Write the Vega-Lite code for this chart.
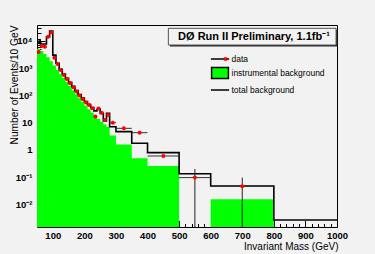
{
  "$schema": "https://vega.github.io/schema/vega-lite/v6.json",
  "width": 300,
  "height": 202,
  "autosize": {"type": "none"},
  "padding": {"left": 37, "top": 25, "right": 38, "bottom": 27},
  "background": "#f2f2f2",
  "config": {
    "view": {"stroke": "#000", "strokeWidth": 1},
    "font": "Liberation Sans",
    "axis": {"grid": false, "domain": false, "labelFont": "Liberation Sans", "titleFont": "Liberation Sans", "labelColor": "#000", "titleColor": "#000", "tickColor": "#000", "tickWidth": 1}
  },
  "datasets": {
    "inst": [
      {"m": 50, "v": 5000},
      {"m": 60, "v": 4200},
      {"m": 70, "v": 3300},
      {"m": 80, "v": 2500},
      {"m": 90, "v": 1800},
      {"m": 100, "v": 1250},
      {"m": 110, "v": 850},
      {"m": 120, "v": 600},
      {"m": 130, "v": 430},
      {"m": 140, "v": 310},
      {"m": 150, "v": 220},
      {"m": 160, "v": 155},
      {"m": 170, "v": 110},
      {"m": 180, "v": 78},
      {"m": 190, "v": 57},
      {"m": 200, "v": 42},
      {"m": 210, "v": 31},
      {"m": 220, "v": 23},
      {"m": 230, "v": 17},
      {"m": 240, "v": 13.5},
      {"m": 250, "v": 10.5},
      {"m": 260, "v": 8.5},
      {"m": 270, "v": 7},
      {"m": 280, "v": 3.4},
      {"m": 300, "v": 1.6},
      {"m": 350, "v": 0.5},
      {"m": 400, "v": 0.26},
      {"m": 500, "v": 0.0001},
      {"m": 600, "v": 0.0156},
      {"m": 800, "v": 0.0001},
      {"m": 1000, "v": 0.0001}
    ],
    "total": [
      {"m": 50, "v": 11000},
      {"m": 60, "v": 7600},
      {"m": 70, "v": 7600},
      {"m": 80, "v": 14000},
      {"m": 90, "v": 23000},
      {"m": 100, "v": 3000},
      {"m": 110, "v": 1500},
      {"m": 120, "v": 900},
      {"m": 130, "v": 600},
      {"m": 140, "v": 420},
      {"m": 150, "v": 300},
      {"m": 160, "v": 215},
      {"m": 170, "v": 150},
      {"m": 180, "v": 108},
      {"m": 190, "v": 80},
      {"m": 200, "v": 60},
      {"m": 210, "v": 46},
      {"m": 220, "v": 36},
      {"m": 230, "v": 27},
      {"m": 240, "v": 31},
      {"m": 250, "v": 22},
      {"m": 260, "v": 11.5},
      {"m": 270, "v": 22},
      {"m": 280, "v": 7.1},
      {"m": 300, "v": 4.7},
      {"m": 350, "v": 1.76},
      {"m": 400, "v": 0.8},
      {"m": 500, "v": 0.135},
      {"m": 600, "v": 0.048},
      {"m": 800, "v": 0.0027},
      {"m": 1000, "v": 0.0027}
    ],
    "pts": [
      {"m": 55, "lo": 50, "hi": 60, "v": 3900},
      {"m": 65, "lo": 60, "hi": 70, "v": 6500},
      {"m": 75, "lo": 70, "hi": 80, "v": 6100},
      {"m": 85, "lo": 80, "hi": 90, "v": 14000},
      {"m": 95, "lo": 90, "hi": 100, "v": 20400},
      {"m": 105, "lo": 100, "hi": 110, "v": 2400},
      {"m": 115, "lo": 110, "hi": 120, "v": 1400},
      {"m": 125, "lo": 120, "hi": 130, "v": 850},
      {"m": 135, "lo": 130, "hi": 140, "v": 560},
      {"m": 145, "lo": 140, "hi": 150, "v": 400},
      {"m": 155, "lo": 150, "hi": 160, "v": 280},
      {"m": 165, "lo": 160, "hi": 170, "v": 200},
      {"m": 175, "lo": 170, "hi": 180, "v": 140},
      {"m": 185, "lo": 180, "hi": 190, "v": 100},
      {"m": 195, "lo": 190, "hi": 200, "v": 72},
      {"m": 205, "lo": 200, "hi": 210, "v": 55},
      {"m": 215, "lo": 210, "hi": 220, "v": 44},
      {"m": 225, "lo": 220, "hi": 230, "v": 34},
      {"m": 235, "lo": 230, "hi": 240, "v": 17},
      {"m": 245, "lo": 240, "hi": 250, "v": 33},
      {"m": 255, "lo": 250, "hi": 260, "v": 23},
      {"m": 265, "lo": 260, "hi": 270, "v": 12.5},
      {"m": 275, "lo": 270, "hi": 280, "v": 19},
      {"m": 290, "lo": 280, "hi": 300, "v": 10},
      {"m": 325, "lo": 300, "hi": 350, "v": 6.2},
      {"m": 375, "lo": 350, "hi": 400, "v": 4.3},
      {"m": 450, "lo": 400, "hi": 500, "v": 0.6},
      {"m": 550, "lo": 500, "hi": 600, "v": 0.097, "el": 0.0001, "eh": 0.2},
      {"m": 700, "lo": 600, "hi": 800, "v": 0.047, "el": 0.0001, "eh": 0.097}
    ],
    "legend": [
      {"series": "data"},
      {"series": "instrumental background"},
      {"series": "total background"}
    ],
    "legenddot": [
      {"dot": "data"}
    ],
    "label": [
      {"text": "DØ Run II Preliminary, 1.1fb⁻¹"}
    ]
  },
  "layer": [
    {
      "data": {"name": "inst"},
      "mark": {"type": "area", "interpolate": "step-after", "clip": true, "color": "#00ff00", "opacity": 1},
      "encoding": {
        "x": {"field": "m", "type": "quantitative", "scale": {"type": "linear", "domain": [50, 1000], "nice": false, "zero": false},
          "axis": {"orient": "bottom", "values": [100, 200, 300, 400, 500, 600, 700, 800, 900, 1000], "format": "d", "tickSize": -6.5, "labelPadding": 10, "labelFontSize": 9.5, "labelFontWeight": "bold", "labelFlush": false,
            "title": "Invariant Mass (GeV)", "titleFontSize": 10, "titleFontWeight": "normal", "titleX": 301, "titleY": 19, "titleAlign": "right", "titleBaseline": "middle"}},
        "y": {"field": "v", "type": "quantitative", "scale": {"type": "log", "domain": [0.0015, 38000], "nice": false},
          "axis": {"orient": "left", "values": [0.01, 0.1, 1, 10, 100, 1000, 10000], "tickSize": -8, "labelPadding": 13, "labelFontSize": 9.5, "labelFontWeight": "bold", "labelFlush": false,
            "labelExpr": "datum.value >= 5000 ? '10⁴' : datum.value >= 500 ? '10³' : datum.value >= 50 ? '10²' : datum.value >= 5 ? '10' : datum.value >= 0.5 ? '1' : datum.value >= 0.05 ? '10⁻¹' : '10⁻²'",
            "title": "Number of Events/10 GeV", "titleFontSize": 10.2, "titleFontWeight": "normal", "titleAngle": -90, "titleX": -23, "titleY": 0, "titleAlign": "right", "titleBaseline": "middle"}},
        "y2": {"datum": 0.0001}
      }
    },
    {
      "data": {"name": "total"},
      "mark": {"type": "line", "interpolate": "step-after", "color": "#000", "strokeWidth": 1.6, "clip": true},
      "encoding": {
        "x": {"field": "m", "type": "quantitative", "scale": {"type": "linear", "domain": [50, 1000], "nice": false, "zero": false},
          "axis": {"orient": "bottom", "values": [60, 80, 120, 140, 160, 180, 220, 240, 260, 280, 320, 340, 360, 380, 420, 440, 460, 480, 520, 540, 560, 580, 620, 640, 660, 680, 720, 740, 760, 780, 820, 840, 860, 880, 920, 940, 960, 980], "labels": false, "tickSize": -3.5, "title": null}},
        "y": {"field": "v", "type": "quantitative", "scale": {"type": "log", "domain": [0.0015, 38000], "nice": false},
          "axis": {"orient": "left", "values": [0.002, 0.003, 0.004, 0.005, 0.006, 0.007, 0.008, 0.009, 0.02, 0.03, 0.04, 0.05, 0.06, 0.07, 0.08, 0.09, 0.2, 0.3, 0.4, 0.5, 0.6, 0.7, 0.8, 0.9, 2, 3, 4, 5, 6, 7, 8, 9, 20, 30, 40, 50, 60, 70, 80, 90, 200, 300, 400, 500, 600, 700, 800, 900, 2000, 3000, 4000, 5000, 6000, 7000, 8000, 9000, 20000, 30000], "labels": false, "tickSize": -4, "title": null}}
      }
    },
    {
      "data": {"name": "pts"},
      "mark": {"type": "rule", "color": "#333", "strokeWidth": 1, "clip": true},
      "encoding": {
        "x": {"field": "lo", "type": "quantitative", "scale": {"domain": [50, 1000], "nice": false, "zero": false}, "axis": null},
        "x2": {"field": "hi"},
        "y": {"field": "v", "type": "quantitative", "scale": {"type": "log", "domain": [0.0015, 38000], "nice": false}, "axis": null}
      }
    },
    {
      "data": {"name": "pts"},
      "transform": [{"filter": "datum.eh != null"}],
      "mark": {"type": "rule", "color": "#222", "strokeWidth": 1, "clip": true},
      "encoding": {
        "x": {"field": "m", "type": "quantitative", "scale": {"domain": [50, 1000], "nice": false, "zero": false}, "axis": null},
        "y": {"field": "el", "type": "quantitative", "scale": {"type": "log", "domain": [0.0015, 38000], "nice": false}, "axis": null},
        "y2": {"field": "eh"}
      }
    },
    {
      "data": {"name": "pts"},
      "mark": {"type": "circle", "color": "#ff0000", "size": 16, "opacity": 1, "clip": true},
      "encoding": {
        "x": {"field": "m", "type": "quantitative", "scale": {"domain": [50, 1000], "nice": false, "zero": false}, "axis": null},
        "y": {"field": "v", "type": "quantitative", "scale": {"type": "log", "domain": [0.0015, 38000], "nice": false}, "axis": null}
      }
    },
    {
      "data": {"name": "legend"},
      "mark": {"type": "point", "clip": true, "filled": true, "opacity": 1},
      "encoding": {
        "x": {"datum": 0, "type": "quantitative", "scale": {"domain": [50, 1000], "nice": false, "zero": false}, "axis": null},
        "y": {"datum": 1, "type": "quantitative", "scale": {"type": "log", "domain": [0.0015, 38000], "nice": false}, "axis": null},
        "fill": {"field": "series", "type": "nominal",
          "scale": {"domain": ["data", "instrumental background", "total background"], "range": ["transparent", "#00ff00", "transparent"]},
          "legend": {"title": null, "orient": "none", "legendX": 175, "legendY": 26, "padding": 0, "labelFontSize": 8.5, "labelFont": "Liberation Sans", "labelColor": "#000", "symbolSize": 196, "symbolStrokeWidth": 1.5, "rowPadding": 0, "labelOffset": 3.5, "symbolOpacity": 1}},
        "stroke": {"field": "series", "type": "nominal",
          "scale": {"domain": ["data", "instrumental background", "total background"], "range": ["#000000", "#000000", "#000000"]}},
        "shape": {"field": "series", "type": "nominal",
          "scale": {"domain": ["data", "instrumental background", "total background"], "range": ["M-1.3,0H1.3", "M-1.2,-0.8H1.2V0.8H-1.2Z", "M-1.3,0H1.3"]}}
      }
    },
    {
      "data": {"name": "legenddot"},
      "mark": {"type": "square", "clip": true, "opacity": 1},
      "encoding": {
        "x": {"datum": 0, "type": "quantitative", "scale": {"domain": [50, 1000], "nice": false, "zero": false}, "axis": null},
        "y": {"datum": 1, "type": "quantitative", "scale": {"type": "log", "domain": [0.0015, 38000], "nice": false}, "axis": null},
        "color": {"field": "dot", "type": "nominal",
          "scale": {"domain": ["data"], "range": ["#ff0000"]},
          "legend": {"title": null, "orient": "none", "legendX": 180.5, "legendY": 26, "padding": 0, "labelExpr": "''", "labelFontSize": 16, "symbolSize": 12, "symbolStrokeWidth": 0, "symbolOpacity": 1, "rowPadding": 0, "labelOffset": 0}}
      }
    },
    {
      "data": {"name": "label"},
      "mark": {"type": "rect", "fill": "#222"},
      "encoding": {
        "x": {"datum": 471, "type": "quantitative", "scale": {"domain": [50, 1000], "nice": false, "zero": false}, "axis": null},
        "x2": {"datum": 1001.5},
        "y": {"datum": 25200, "type": "quantitative", "scale": {"type": "log", "domain": [0.0015, 38000], "nice": false}, "axis": null},
        "y2": {"datum": 6170}
      }
    },
    {
      "data": {"name": "label"},
      "mark": {"type": "rect", "fill": "#f2f2f2", "stroke": "#555", "strokeWidth": 1},
      "encoding": {
        "x": {"datum": 466, "type": "quantitative", "scale": {"domain": [50, 1000], "nice": false, "zero": false}, "axis": null},
        "x2": {"datum": 997},
        "y": {"datum": 28700, "type": "quantitative", "scale": {"type": "log", "domain": [0.0015, 38000], "nice": false}, "axis": null},
        "y2": {"datum": 7010}
      }
    },
    {
      "data": {"name": "label"},
      "mark": {"type": "text", "fontWeight": "bold", "fontSize": 11, "font": "Liberation Sans", "align": "center", "baseline": "middle", "color": "#000"},
      "encoding": {
        "x": {"datum": 737, "type": "quantitative", "scale": {"domain": [50, 1000], "nice": false, "zero": false}, "axis": null},
        "y": {"datum": 14100, "type": "quantitative", "scale": {"type": "log", "domain": [0.0015, 38000], "nice": false}, "axis": null},
        "text": {"field": "text"}
      }
    }
  ],
  "resolve": {"axis": {"x": "independent", "y": "independent"}}
}
